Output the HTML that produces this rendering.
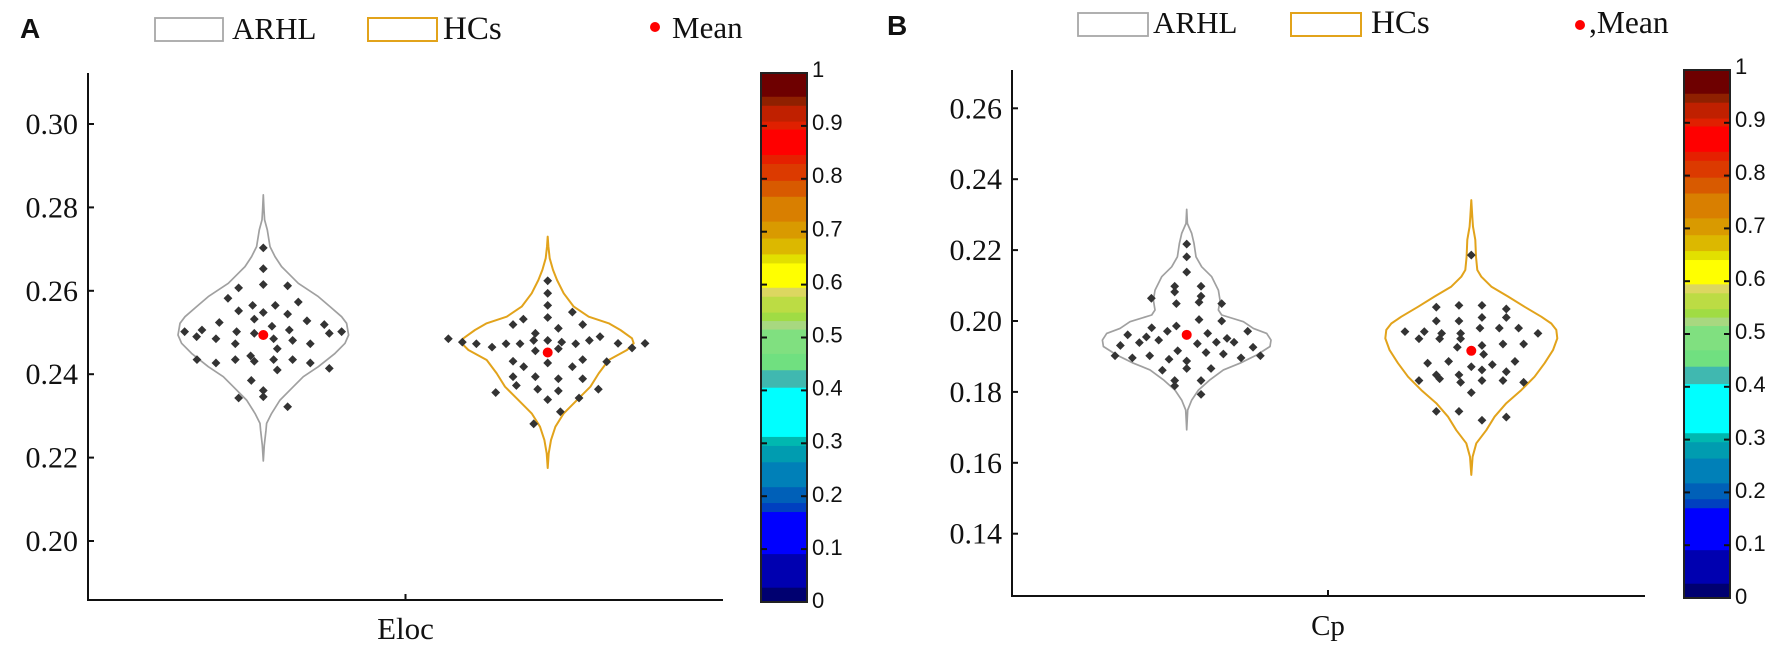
<!DOCTYPE html>
<html lang="en">
<head>
<meta charset="utf-8">
<title>Eloc and Cp violin plots</title>
<style>
html,body{margin:0;padding:0;background:#fff;width:1772px;height:648px;overflow:hidden}
svg{display:block}
.serif{font-family:"Liberation Serif",serif;fill:#111}
.sans{font-family:"Liberation Sans",sans-serif;fill:#111}
</style>
</head>
<body>
<svg id="chart" xmlns="http://www.w3.org/2000/svg" width="1772" height="648" viewBox="0 0 1772 648">
  <rect width="1772" height="648" fill="#fff"/>
  <g>
    <text class="sans" x="20" y="38" font-size="28" font-weight="bold" fill="#000">A</text>
    <rect x="155" y="18" width="68" height="23" fill="#fff" stroke="#a8a8a8" stroke-width="1.8"/>
    <text class="serif" x="232" y="39" font-size="31">ARHL</text>
    <rect x="368" y="18" width="69" height="23" fill="#fff" stroke="#e2a31b" stroke-width="2"/>
    <text class="serif" x="443" y="39" font-size="33">HCs</text>
    <circle cx="655" cy="27" r="5" fill="#f00"/>
    <text class="serif" x="672" y="38" font-size="31">Mean</text>
  </g>
  <g>
    <text class="sans" x="887" y="35" font-size="28" font-weight="bold" fill="#000">B</text>
    <rect x="1078" y="13" width="70" height="23" fill="#fff" stroke="#a8a8a8" stroke-width="1.8"/>
    <text class="serif" x="1153" y="33" font-size="31">ARHL</text>
    <rect x="1291" y="13" width="70" height="23" fill="#fff" stroke="#e2a31b" stroke-width="2"/>
    <text class="serif" x="1371" y="33" font-size="33">HCs</text>
    <circle cx="1580" cy="25" r="5" fill="#f00"/>
    <text class="serif" x="1589" y="33" font-size="31.5">,Mean</text>
  </g>
</svg>
<script>
// ---------- tick labels ----------
var eLocTicks = [0.20, 0.22, 0.24, 0.26, 0.28, 0.30];
var cpTicks = [0.14, 0.16, 0.18, 0.20, 0.22, 0.24, 0.26];
var colorbarTicks = [0, 0.1, 0.2, 0.3, 0.4, 0.5, 0.6, 0.7, 0.8, 0.9, 1];

// ---------- colour bar bands ----------
var bandBreaks = [0,.028,.0915,.171,.188,.218,.265,.296,.313,.406,.439,.470,.516,.532,.548,.578,.595,.641,.658,.688,.720,.767,.797,.829,.846,.894,.909,.939,.956,1];
var bandColors = ['#000070','#0000b0','#0000ff','#0040c0','#0060b8','#0080b8','#009cb0','#00b8b0','#00ffff','#40b8b0','#70e080','#80e080','#a8d880','#a0dc44','#bcdc44','#dcd760','#ffff00','#e2e000','#dcb800','#d99a00','#d97f00','#d85a00','#dc3a00','#e52000','#ff0000','#e02000','#c02000','#8f2000','#6e0000'];

// ---------- Eloc / ARHL ----------
var elocArhlLevels = [.2830,.2794,.2770,.2746,.2706,.2682,.2658,.2642,.2618,.2586,.2562,.2538,.2522,.2494,.2474,.2450,.2418,.2394,.2370,.2338,.2306,.2282,.2266,.2230,.2192];
var elocArhlDensity = [0,2,4,12,20,35,55,75,105,165,200,235,250,256,245,215,165,120,90,50,25,10,8,3,0];
var elocArhlValues = [.2703,.2653,.2615,.2607,.2612,.2582,.2573,.2565,.2565,.2552,.2548,.2544,.2532,.2528,.2524,.2515,.2519,.2506,.2502,.2502,.2498,.2506,.2502,.2490,.2485,.2485,.2481,.2498,.2473,.2473,.2461,.2435,.2427,.2435,.2444,.2431,.2435,.2435,.2427,.2414,.2410,.2385,.2361,.2346,.2343,.2322];
var elocArhlJitter = [0,0,0,-74,73,-106,105,-32,36,-74,0,73,-27,131,-132,26,183,-184,-236,-80,-27,78,235,-200,-142,31,88,198,-84,141,42,-199,-142,-84,-38,-27,31,88,141,198,42,-36,0,0,-74,73];
var elocArhlMean = 0.2494;

// ---------- Eloc / HCs ----------
var elocHcsLevels = [.2730,.2706,.2678,.2650,.2626,.2594,.2562,.2538,.2522,.2506,.2486,.2474,.2458,.2434,.2402,.2370,.2338,.2306,.2274,.2242,.2210,.2175];
var elocHcsDensity = [0,2,6,16,28,48,78,123,183,218,253,258,238,183,153,128,88,48,23,10,3,0];
var elocHcsValues = [.2624,.2594,.2565,.2536,.2549,.2519,.2532,.2519,.2510,.2498,.2481,.2481,.2477,.2473,.2481,.2485,.2477,.2473,.2465,.2473,.2473,.2456,.2461,.2431,.2418,.2427,.2418,.2435,.2394,.2394,.2389,.2389,.2373,.2364,.2360,.2364,.2356,.2339,.2343,.2310,.2281,.2490,.2474,.2463,.2474,.2430];
var elocHcsJitter = [0,0,0,0,74,105,-73,-104,32,-37,-42,0,42,84,125,-298,-256,-214,-167,-125,-83,-37,32,-104,-72,0,74,105,-104,-37,32,105,-94,-30,32,152,-156,0,94,38,-42,157,211,253,292,177];
var elocHcsMean = 0.2452;

// ---------- Cp / ARHL ----------
var cpArhlLevels = [.2315,.2275,.2247,.2219,.2181,.2153,.2125,.2087,.2059,.2031,.2017,.1998,.1979,.1965,.1946,.1928,.1904,.1881,.1862,.1834,.1805,.1777,.1749,.1693];
var cpArhlDensity = [0,2,15,22,28,45,75,95,100,95,105,170,200,240,253,250,210,160,110,70,35,15,3,0];
var cpArhlValues = [.2217,.2181,.2138,.2098,.2098,.2082,.2070,.2053,.2064,.2049,.2049,.2004,.2000,.1986,.1981,.1971,.1961,.1955,.1939,.1946,.1971,.1965,.1951,.1940,.1940,.1936,.1931,.1926,.1902,.1896,.1902,.1916,.1911,.1907,.1896,.1902,.1892,.1887,.1866,.1866,.1861,.1832,.1817,.1832,.1793];
var cpArhlJitter = [0,0,0,-36,43,-36,43,37,-106,-31,105,37,105,-31,-105,-58,-177,-121,-142,-84,183,63,121,142,89,32,-199,199,-215,-163,-111,-27,58,110,163,221,-53,0,0,73,-73,-36,-36,43,43];
var cpArhlMean = 0.1961;

// ---------- Cp / HCs ----------
var cpHcsLevels = [.2341,.2294,.2266,.2229,.2181,.2144,.2125,.2097,.2069,.2040,.2012,.1993,.1975,.1951,.1918,.1881,.1843,.1805,.1768,.1730,.1692,.1655,.1617,.1566];
var cpHcsDensity = [0,3,5,12,14,18,30,60,110,160,210,240,255,258,245,220,190,150,105,70,45,15,4,0];
var cpHcsValues = [.2186,.2039,.2044,.2044,.2034,.2010,.2010,.2000,.2000,.1980,.1980,.1980,.1970,.1970,.1965,.1965,.1965,.1950,.1950,.1950,.1926,.1931,.1935,.1935,.1906,.1881,.1886,.1871,.1877,.1886,.1862,.1857,.1848,.1848,.1837,.1832,.1827,.1832,.1832,.1827,.1798,.1745,.1745,.1720,.1729];
var cpHcsJitter = [0,-105,-37,32,105,32,105,-105,-37,26,84,142,-199,-141,-89,-32,200,-157,-95,-32,-42,32,95,157,37,-131,-68,0,63,131,32,105,-105,-37,-95,-157,-32,32,95,157,0,-105,-37,32,105];
var cpHcsMean = 0.1916;

var NS = 'http://www.w3.org/2000/svg';
var svg = document.getElementById('chart');

function mk(tag, attrs, parent) {
  var el = document.createElementNS(NS, tag);
  for (var k in attrs) el.setAttribute(k, attrs[k]);
  (parent || svg).appendChild(el);
  return el;
}

function linearScale(v0, p0, v1, p1) {
  return function (v) { return p0 + (v - v0) * (p1 - p0) / (v1 - v0); };
}

var DENSITY_SCALE = 1 / 3;

function drawViolin(g, yScale, cx, levels, density, values, jitter, mean, color, width, key) {
  var right = [], left = [];
  for (var i = 0; i < levels.length; i++) {
    var hw = density[i] * DENSITY_SCALE;
    var y = yScale(levels[i]);
    right.push((cx + hw).toFixed(1) + ',' + y.toFixed(1));
    left.unshift((cx - hw).toFixed(1) + ',' + y.toFixed(1));
  }
  var outline = mk('polygon', {points: right.concat(left).join(' '), fill: 'none', stroke: color, 'stroke-width': width, 'stroke-linejoin': 'round'}, g);
  
  
  for (var j = 0; j < values.length; j++) {
    var px = cx + jitter[j] * DENSITY_SCALE;
    var py = yScale(values[j]);
    var d = 4.4;
    var pt = mk('polygon', {points: px + ',' + (py - d) + ' ' + (px + d) + ',' + py + ' ' + px + ',' + (py + d) + ' ' + (px - d) + ',' + py, fill: '#333'}, g);
    
    
  }
  var m = mk('circle', {cx: cx, cy: yScale(mean), r: 5, fill: '#f00'}, g);
  
  
}

function drawAxes(g, o) {
  var yAxis = mk('line', {x1: o.x0, x2: o.x0, y1: o.top, y2: o.bottom + 1, stroke: '#111', 'stroke-width': 2}, g);
  
  
  var xAxis = mk('line', {x1: o.x0 - 1, x2: o.x1, y1: o.bottom, y2: o.bottom, stroke: '#111', 'stroke-width': 2}, g);
  
  
  var xTick = mk('line', {x1: o.xc, x2: o.xc, y1: o.bottom, y2: o.bottom - 6, stroke: '#111', 'stroke-width': 2}, g);
  
  
  o.ticks.forEach(function (t) {
    var y = o.y(t);
    var tick = mk('line', {x1: o.x0, x2: o.x0 + 6, y1: y, y2: y, stroke: '#111', 'stroke-width': 2}, g);
    
    
    var lab = mk('text', {x: o.x0 - 10, y: y + 10, 'text-anchor': 'end', 'font-size': 30, 'class': 'serif'}, g);
    
    
    lab.textContent = t.toFixed(2);
  });
  var title = mk('text', {x: o.xc, y: o.titleY, 'text-anchor': 'middle', 'font-size': o.titleSize, 'class': 'serif'}, g);
  
  
  title.textContent = o.title;
}

function drawColorbar(g, x0, x1, top, bottom, key) {
  var y = linearScale(0, bottom, 1, top);
  for (var i = 0; i < bandColors.length; i++) {
    var r = mk('rect', {x: x0, width: x1 - x0, y: y(bandBreaks[i + 1]), height: y(bandBreaks[i]) - y(bandBreaks[i + 1]) + 0.5, fill: bandColors[i]}, g);
    
    
  }
  var frame = mk('rect', {x: x0, y: top, width: x1 - x0, height: bottom - top, fill: 'none', stroke: '#222', 'stroke-width': 2}, g);
  
  
  colorbarTicks.forEach(function (t) {
    var py = y(t);
    if (t > 0 && t < 1) {
      var a = mk('line', {x1: x0, x2: x0 + 6, y1: py, y2: py, stroke: '#111', 'stroke-width': 2}, g);
      
      
      var b = mk('line', {x1: x1 - 6, x2: x1, y1: py, y2: py, stroke: '#111', 'stroke-width': 2}, g);
      
      
    }
    var lab = mk('text', {x: x1 + 5, y: py + 6 - t * 2, 'font-size': 22, 'class': 'sans'}, g);
    
    
    lab.textContent = String(t);
  });
}

// Panel A
var gA = mk('g', {});


var yA = linearScale(0.20, 541, 0.30, 124);
drawAxes(gA, {key: 'eloc', x0: 88, x1: 723, xc: 405.5, top: 73, bottom: 600, y: yA, ticks: eLocTicks, title: 'Eloc', titleY: 639, titleSize: 31});
drawViolin(gA, yA, 263.3, elocArhlLevels, elocArhlDensity, elocArhlValues, elocArhlJitter, elocArhlMean, '#a0a0a0', 1.7, 'eloc-arhl');
drawViolin(gA, yA, 547.7, elocHcsLevels, elocHcsDensity, elocHcsValues, elocHcsJitter, elocHcsMean, '#e2a31b', 2, 'eloc-hcs');
drawColorbar(gA, 761, 807, 73, 602, 'eloc');

// Panel B
var gB = mk('g', {});


var yB = linearScale(0.20, 321, 0.26, 108.3);
drawAxes(gB, {key: 'cp', x0: 1012, x1: 1645, xc: 1328, top: 70, bottom: 596, y: yB, ticks: cpTicks, title: 'Cp', titleY: 635, titleSize: 29});
drawViolin(gB, yB, 1186.7, cpArhlLevels, cpArhlDensity, cpArhlValues, cpArhlJitter, cpArhlMean, '#a0a0a0', 1.7, 'cp-arhl');
drawViolin(gB, yB, 1471.3, cpHcsLevels, cpHcsDensity, cpHcsValues, cpHcsJitter, cpHcsMean, '#e2a31b', 2, 'cp-hcs');
drawColorbar(gB, 1684, 1730, 70, 598, 'cp');
</script>
</body>
</html>
